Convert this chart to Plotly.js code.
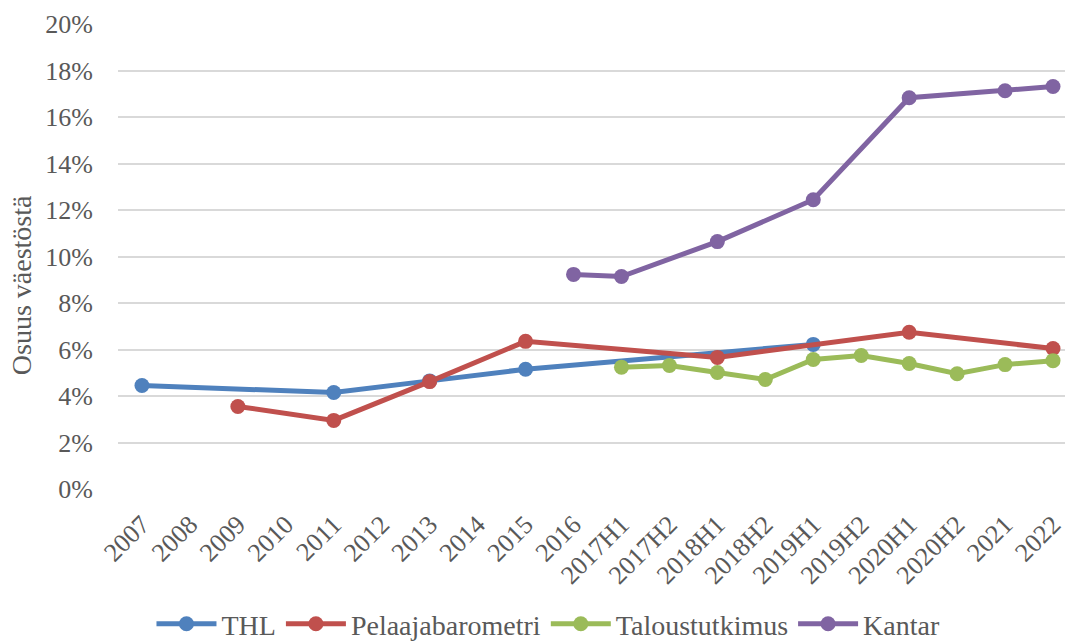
<!DOCTYPE html>
<html>
<head>
<meta charset="utf-8">
<script src="https://cdn.plot.ly/plotly-3.0.1.min.js"></script>
<style>html,body{margin:0;padding:0;background:#fff;}#chart{width:1065px;height:642px;}</style>
</head>
<body>
<div id="chart"></div>
<script>
const categories = ["2007","2008","2009","2010","2011","2012","2013","2014","2015","2016","2017H1","2017H2","2018H1","2018H2","2019H1","2019H2","2020H1","2020H2","2021","2022"];
const thl = [4.45,null,null,null,4.15,null,4.65,null,5.15,null,null,null,null,null,6.22,null,null,null,null,null];
const pelaajabarometri = [null,null,3.55,null,2.95,null,4.62,null,6.35,null,null,null,5.66,null,null,null,6.74,null,null,6.04];
const taloustutkimus = [null,null,null,null,null,null,null,null,null,null,5.24,5.31,5.01,4.71,5.57,5.74,5.40,4.96,5.35,5.52];
const kantar = [null,null,null,null,null,null,null,null,null,9.23,9.14,null,10.64,null,12.44,null,16.83,null,17.13,17.31];
const yTicks = [0,2,4,6,8,10,12,14,16,18,20];
const yTickText = ["0%","2%","4%","6%","8%","10%","12%","14%","16%","18%","20%"];

const FONT = 'Times New Roman, Liberation Serif, DejaVu Serif, serif';
const TXT = '#595959';

function series(name, y, color) {
  return {
    type: 'scatter', mode: 'lines+markers', name: name,
    x: categories, y: y, connectgaps: true,
    line: {color: color, width: 5},
    marker: {color: color, size: 15},
    cliponaxis: false
  };
}

const data = [
  series('THL', thl, '#4F81BD'),
  series('Pelaajabarometri', pelaajabarometri, '#C0504D'),
  series('Taloustutkimus', taloustutkimus, '#9BBB59'),
  series('Kantar', kantar, '#8064A2')
];

const layout = {
  width: 1065, height: 642,
  margin: {l: 118, r: 0, t: 24, b: 153},
  paper_bgcolor: '#fff', plot_bgcolor: '#fff',
  font: {family: FONT, color: TXT, size: 26},
  showlegend: true,
  legend: {
    orientation: 'h', xref: 'container', yref: 'container',
    x: 0.515, xanchor: 'center', y: 0.028, yanchor: 'middle',
    font: {family: FONT, color: TXT, size: 28},
    itemwidth: 60, tracegroupgap: 0
  },
  xaxis: {
    type: 'category', range: [-0.5, 19.25],
    tickangle: -45, showgrid: false, zeroline: false, showline: false,
    ticks: '', ticklabelstandoff: 14,
    tickfont: {family: FONT, color: TXT, size: 26}
  },
  yaxis: {
    range: [0, 20], tickvals: yTicks, ticktext: yTickText,
    showgrid: true, gridcolor: '#d9d9d9', gridwidth: 2,
    zeroline: false, showline: false, ticks: '', ticklabelstandoff: 24,
    tickfont: {family: FONT, color: TXT, size: 26}
  },
  annotations: [{
    text: 'Osuus väestöstä', textangle: -90,
    xref: 'paper', yref: 'paper', x: -0.101, y: 0.439,
    xanchor: 'center', yanchor: 'middle', showarrow: false,
    font: {family: FONT, color: TXT, size: 28}
  }]
};

Plotly.newPlot('chart', data, layout, {displayModeBar: false, staticPlot: true});
</script>
</body>
</html>
